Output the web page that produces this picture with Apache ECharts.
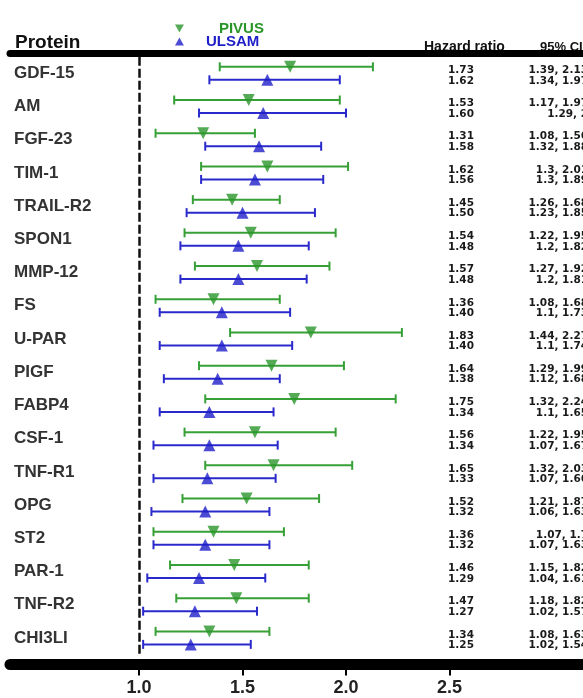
<!DOCTYPE html>
<html><head><meta charset="utf-8">
<script src="https://cdn.jsdelivr.net/npm/echarts@6/dist/echarts.min.js"></script>
<style>html,body{margin:0;padding:0;background:#fff}#c{width:583px;height:698px}</style>
</head><body><div id="c"></div>
<script>
// ---- data ----
const proteins = ['GDF-15','AM','FGF-23','TIM-1','TRAIL-R2','SPON1','MMP-12','FS','U-PAR','PIGF','FABP4','CSF-1','TNF-R1','OPG','ST2','PAR-1','TNF-R2','CHI3LI'];
const pivusHR = [1.73,1.53,1.31,1.62,1.45,1.54,1.57,1.36,1.83,1.64,1.75,1.56,1.65,1.52,1.36,1.46,1.47,1.34];
const pivusLo = [1.39,1.17,1.08,1.3,1.26,1.22,1.27,1.08,1.44,1.29,1.32,1.22,1.32,1.21,1.07,1.15,1.18,1.08];
const pivusHi = [2.13,1.97,1.56,2.01,1.68,1.95,1.92,1.68,2.27,1.99,2.24,1.95,2.03,1.87,1.7,1.82,1.82,1.63];
const ulsamHR = [1.62,1.60,1.58,1.56,1.50,1.48,1.48,1.40,1.40,1.38,1.34,1.34,1.33,1.32,1.32,1.29,1.27,1.25];
const ulsamLo = [1.34,1.29,1.32,1.3,1.23,1.2,1.2,1.1,1.1,1.12,1.1,1.07,1.07,1.06,1.07,1.04,1.02,1.02];
const ulsamHi = [1.97,2,1.88,1.89,1.85,1.82,1.81,1.73,1.74,1.68,1.65,1.67,1.66,1.63,1.63,1.61,1.57,1.54];
const xTicks = [1.0,1.5,2.0,2.5];
const seriesNames = ['PIVUS','ULSAM'];

// ---- style ----
const GREEN = '#2a962a', BLUE = '#1e1ec8';
const GREEN_LINE = '#36a036', BLUE_LINE = '#2a2acc';
const NUMFONT = 'bold 10.5px "DejaVu Sans",Arial,sans-serif';
const X_MIN = 0.3768, X_MAX = 3.1449;

function barSeries(name, hr, lo, hi, color, dy, tdy) {
  return {
    name: name + ' CI', type: 'custom', clip: false, z: 2,
    encode: { x: [1, 2], y: 0 },
    data: proteins.map((p, i) => [p, lo[i], hi[i], hr[i]]),
    renderItem: function (params, api) {
      const cat = api.value(0);
      const a = api.coord([api.value(1), cat]);
      const b = api.coord([api.value(2), cat]);
      const y = a[1] + dy, cap = 4.5;
      const l = api.value(1), h = api.value(2), v = api.value(3);
      const st = { stroke: color, lineWidth: 2 };
      return { type: 'group', children: [
        { type: 'line', shape: { x1: a[0], y1: y, x2: b[0], y2: y }, style: st },
        { type: 'line', shape: { x1: a[0], y1: y - cap, x2: a[0], y2: y + cap }, style: st },
        { type: 'line', shape: { x1: b[0], y1: y - cap, x2: b[0], y2: y + cap }, style: st },
        { type: 'text', x: 461, y: a[1] + tdy, style: { text: v.toFixed(2), align: 'center', verticalAlign: 'middle', font: NUMFONT, fill: '#1a1a1a' } },
        { type: 'text', x: 588, y: a[1] + tdy, style: { text: String(l) + ', ' + String(h), align: 'right', verticalAlign: 'middle', font: NUMFONT, fill: '#1a1a1a' } }
      ]};
    }
  };
}

const chart = echarts.init(document.getElementById('c'));
chart.setOption({
  animation: false,
  backgroundColor: '#fff',
  grid: { left: 10, right: 0, top: 56.7, bottom: 43.5 },
  legend: {
    orient: 'vertical', left: 170, top: 16, itemGap: -2, itemWidth: 9, itemHeight: 8,
    selectedMode: false,
    textStyle: { fontWeight: 'bold', fontSize: 15, fontFamily: 'Liberation Sans, Arial, sans-serif' },
    data: [
      { name: 'PIVUS', icon: 'path://M0,0L10,0L5,9Z', textStyle: { color: GREEN, padding: [0, 0, 0, 30] } },
      { name: 'ULSAM', icon: 'path://M5,0L10,9L0,9Z', textStyle: { color: BLUE, padding: [0, 0, 0, 17] } }
    ]
  },
  xAxis: [
    { type: 'value', position: 'bottom', min: X_MIN, max: X_MAX, offset: 10,
      axisLine: { show: true, lineStyle: { color: '#000', width: 11 } },
      axisTick: { show: true, customValues: xTicks, length: 11, lineStyle: { color: '#000', width: 2 } },
      axisLabel: { customValues: xTicks, margin: 15, formatter: v => v.toFixed(1), color: '#222', fontSize: 18, fontWeight: 'bold', fontFamily: 'Liberation Sans, Arial, sans-serif' },
      splitLine: { show: false } },
    { type: 'value', position: 'top', min: X_MIN, max: X_MAX, offset: 3,
      axisLine: { show: true, lineStyle: { color: '#000', width: 7 } },
      axisTick: { show: false }, axisLabel: { show: false }, splitLine: { show: false } }
  ],
  yAxis: {
    type: 'category', inverse: true, data: proteins,
    axisLine: { show: false }, axisTick: { show: false }, splitLine: { show: false },
    axisLabel: { inside: true, margin: 4, color: '#333', fontSize: 17, fontWeight: 'bold', fontFamily: 'Liberation Sans, Arial, sans-serif', padding: [0, 0, 4, 0] }
  },
  graphic: [
    { type: 'text', left: 15, top: 33, style: { text: 'Protein', font: 'bold 19px "Liberation Sans", Arial, sans-serif', fill: '#111' } },
    { type: 'text', left: 424, top: 40, style: { text: 'Hazard ratio', font: 'bold 14px "Liberation Sans", Arial, sans-serif', fill: '#111' } },
    { type: 'text', left: 540, top: 41, style: { text: '95% CI', font: 'bold 13px "Liberation Sans", Arial, sans-serif', fill: '#111' } }
  ],
  series: [
    barSeries('PIVUS', pivusHR, pivusLo, pivusHi, GREEN_LINE, -6.5, -3),
    barSeries('ULSAM', ulsamHR, ulsamLo, ulsamHi, BLUE_LINE, 6.5, 7.5),
    { name: 'PIVUS', type: 'scatter', z: 3, symbol: 'triangle', symbolRotate: 180, symbolSize: 12,
      symbolOffset: [0, -6.5], itemStyle: { color: GREEN },
      data: proteins.map((p, i) => [pivusHR[i], p]),
      markLine: { silent: true, symbol: 'none', label: { show: false },
        lineStyle: { color: '#111', width: 2.5, type: [9, 3] }, data: [{ xAxis: 1 }] } },
    { name: 'ULSAM', type: 'scatter', z: 3, symbol: 'triangle', symbolSize: 12,
      symbolOffset: [0, 6.5], itemStyle: { color: BLUE },
      data: proteins.map((p, i) => [ulsamHR[i], p]) }
  ]
});
</script></body></html>
